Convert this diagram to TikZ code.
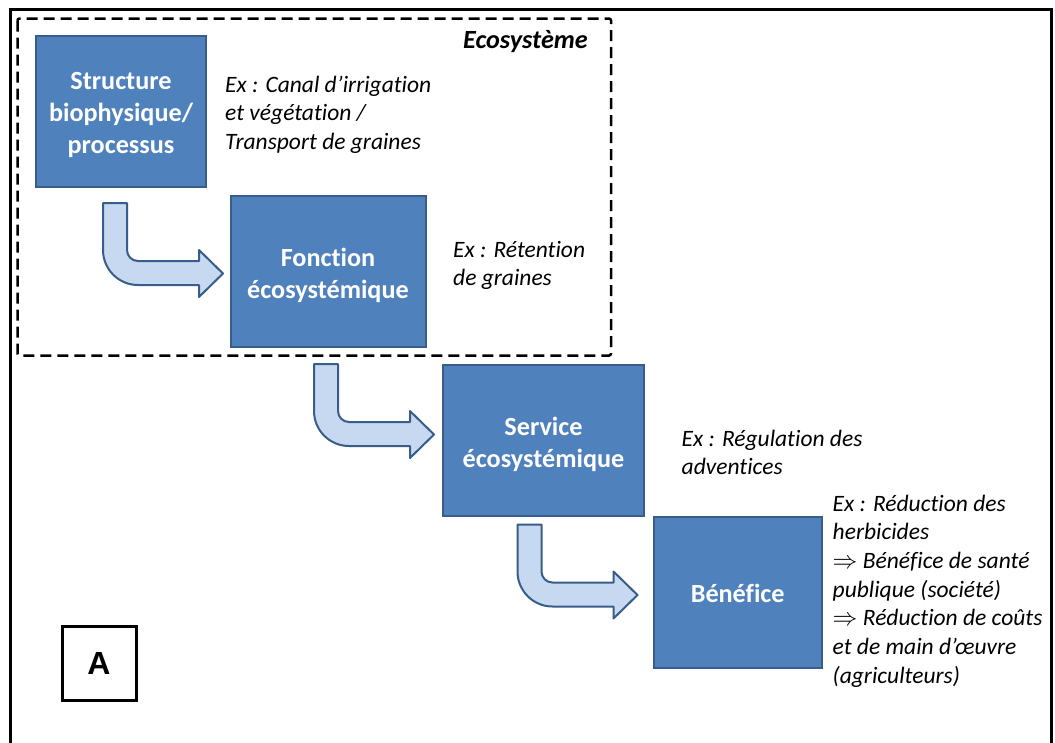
\documentclass[tikz,border=0pt]{standalone}
\usepackage{fontspec}
\setmainfont[Ligatures=NoCommon]{Carlito}
\newfontfamily\arialfont{Liberation Sans}
\definecolor{boxfill}{HTML}{4F81BD}
\definecolor{boxline}{HTML}{385D8A}
\definecolor{arrfill}{HTML}{C6D9F1}
\tikzset{
  bluebox/.style={draw=boxline, fill=boxfill, line width=2pt, inner sep=0pt},
  boxtext/.style={text=white, font=\fontsize{26.2}{32}\selectfont\bfseries, align=center, inner sep=0pt},
  extext/.style={font=\fontsize{23.5}{28.7}\selectfont\itshape, align=left,
    anchor=base west, inner sep=0pt},
  frameline/.style={draw=black, line width=3pt},
  ecoframe/.style={draw=black, line width=2.5pt, dash pattern=on 11pt off 6pt, rounded corners=2pt},
  bentarrow/.pic={
    \draw[draw=boxline, fill=arrfill, line width=2pt, line join=round]
      (0,0) -- (24,0) -- (24,47)
      .. controls (24,53.07) and (28.93,58) .. (35,58)
      -- (96,58) -- (96,47) -- (120,70.5) -- (96,94) -- (96,82) -- (35,82)
      .. controls (15.67,82) and (0,66.33) .. (0,47) -- cycle;
  }
}
\begin{document}
\begin{tikzpicture}[x=1pt, y=-1pt]
\useasboundingbox (0,0) rectangle (1055,742);
\clip (0,0) rectangle (1055,742);
\fill[white] (0,0) rectangle (1055,742);
% outer frame
\draw[frameline] (10,750) -- (10,9.5) -- (1051,9.5) -- (1051,750);
% ecosystem dashed frame
\draw[ecoframe] (17.5,18.5) rectangle (611,355.5);
\node[anchor=base east, inner sep=0pt, font=\fontsize{26.2}{32}\selectfont\bfseries\itshape] (eco) at (588,48) {Ecosystème};
% boxes
\node[bluebox, minimum width=170pt, minimum height=151pt,
  label={[boxtext, yshift=-4pt]center:{Structure\\biophysique/\\processus}}] (s1) at (121,111) {};
\node[bluebox, minimum width=195pt, minimum height=151pt,
  label={[boxtext, yshift=-3.5pt]center:{Fonction\\écosystémique}}] (s2) at (328,271.5) {};
\node[bluebox, minimum width=201pt, minimum height=151pt,
  label={[boxtext, yshift=-3.5pt]center:{Service\\écosystémique}}] (s3) at (543.5,440.5) {};
\node[bluebox, minimum width=168pt, minimum height=151pt,
  label={[boxtext, yshift=-1pt]center:{Bénéfice}}] (s4) at (737.7,592.7) {};
% arrows
\pic (a1) at (103,203) {bentarrow};
\pic (a2) at (314,364) {bentarrow};
\pic (a3) at (517.5,524.5) {bentarrow};
% example texts (anchored at the baseline of their last line)
\node[extext] (t1) at (225,149.4) {Ex : Canal d’irrigation\\et végétation /\\Transport de graines};
\node[extext] (t2) at (453,285.7) {Ex : Rétention\\de graines};
\node[extext] (t3) at (681.5,474.7) {Ex : Régulation des\\adventices};
\node[extext] (t4) at (832.5,683.2) {Ex : Réduction des\\herbicides\\$\Rightarrow$ Bénéfice de santé\\publique (société)\\$\Rightarrow$ Réduction de coûts\\et de main d’œuvre\\(agriculteurs)};
% label A
\node[draw=black, line width=3pt, minimum size=74pt, inner sep=0pt, font=\arialfont\fontsize{32}{36}\selectfont\bfseries] (lab) at (99,663) {A};
\end{tikzpicture}
\end{document}
